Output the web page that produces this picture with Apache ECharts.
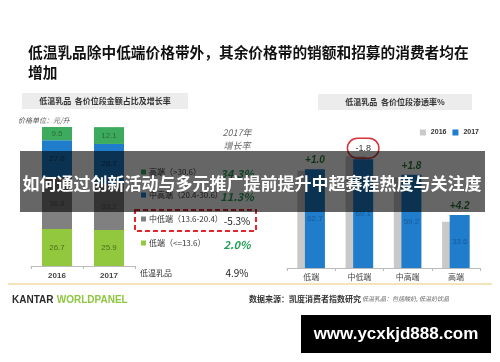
<!DOCTYPE html>
<html><head><meta charset="utf-8">
<script src="https://cdn.jsdelivr.net/npm/echarts@6/dist/echarts.min.js"></script>
<style>html,body{margin:0;padding:0;background:#fff}#c{width:500px;height:362px}</style>
</head><body><div id="c"></div>
<script>
// ---- data ----
const titleLines = ['低温乳品除中低端价格带外，其余价格带的销额和招募的消费者均在', '增加'];
const years = ['2016', '2017'];
const shareLow = [26.7, 25.9];
const shareMidLow = [36.8, 33.2];
const shareMidHigh = [27.0, 28.7];
const shareHigh = [9.5, 12.1];
const tierLegend = ['高端（>30.6）', '中高端（20.4-30.6）', '中低端（13.6-20.4）', '低端（<=13.6）'];
const tierGrowth = ['34.3%', '11.3%', '-5.3%', '2.0%'];
const totalLabel = '低温乳品';
const totalGrowth = '4.9%';
const tiers = ['低端', '中低端', '中高端', '高端'];
const pen2016 = [61.7, 70.9, 57.4, 29.4];
const pen2017 = [62.7, 69.1, 59.2, 33.6];
const penDiff = ['+1.0', '-1.8', '+1.8', '+4.2'];
const bannerText = '如何通过创新活动与多元推广提前提升中超赛程热度与关注度';
const watermark = 'www.ycxkjd888.com';

const F = '"Noto Sans CJK SC", "Noto Sans", sans-serif';
const cGreen = '#3dab5e', cBlue = '#1f7dcc', cGray = '#808080', cLime = '#92c83e', cLight = '#c9c9c9';

const chart = echarts.init(document.getElementById('c'), null, {renderer: 'canvas'});

function txt(text, x, y, o) {
  o = o || {};
  return {type: 'text', z: o.z || 5, style: Object.assign({
    text: text, x: x, y: y, fill: '#333', fontSize: 8, fontFamily: F,
    align: 'left', verticalAlign: 'middle'
  }, o.style || {})};
}
function segLabel(color) {
  return {show: true, position: 'inside', color: color, fontSize: 8, fontFamily: 'Liberation Sans, Arial, sans-serif',
          formatter: p => Number(p.value).toFixed(1)};
}

const legendColors = [cGreen, cBlue, cGray, cLime];
const rowY = [172, 195, 219, 243];
const graphics = [];
// title
graphics.push(txt(titleLines[0], 28, 52, {style: {fontSize: 14.7, fontWeight: 'bold', fill: '#111'}}));
graphics.push(txt(titleLines[1], 28, 72, {style: {fontSize: 14.7, fontWeight: 'bold', fill: '#111'}}));
// header boxes
graphics.push({type: 'rect', z: 1, shape: {x: 22, y: 93, width: 166, height: 16}, style: {fill: '#ececec'}});
graphics.push(txt('低温乳品  各价位段金额占比及增长率', 105, 101, {style: {align: 'center', fontWeight: 'bold', fill: '#333'}}));
graphics.push({type: 'rect', z: 1, shape: {x: 318, y: 94, width: 154, height: 16}, style: {fill: '#ececec'}});
graphics.push(txt('低温乳品  各价位段渗透率%', 395, 102, {style: {align: 'center', fontWeight: 'bold', fill: '#333'}}));
graphics.push(txt('价格单位：元/升', 18, 120, {style: {fontSize: 7, fontStyle: 'italic', fill: '#555'}}));
// growth header
graphics.push(txt('2017年', 237, 133, {style: {align: 'center', fontSize: 9, fontStyle: 'italic', fill: '#666'}}));
graphics.push(txt('增长率', 237, 146, {style: {align: 'center', fontSize: 9, fontStyle: 'italic', fill: '#666'}}));
// tier legend rows
tierLegend.forEach((t, i) => {
  graphics.push({type: 'rect', z: 5, shape: {x: 141, y: rowY[i] - 2.5, width: 5, height: 5}, style: {fill: legendColors[i]}});
  graphics.push(txt(t, 149, rowY[i], {style: {fontSize: 8, fill: '#333'}}));
  const neg = tierGrowth[i].charAt(0) === '-';
  graphics.push(txt(tierGrowth[i], 237, rowY[i] + 2, {style: {align: 'center',
    fontSize: neg ? 10 : 11, fontWeight: neg ? 'normal' : 'bold', fontStyle: neg ? 'normal' : 'italic',
    fill: neg ? '#222' : '#23a05a'}}));
});
graphics.push(txt(totalLabel, 140, 273, {style: {fontSize: 8, fill: '#333'}}));
graphics.push(txt(totalGrowth, 237, 273, {style: {align: 'center', fontSize: 10, fill: '#222'}}));
// red dashed box
graphics.push({type: 'rect', z: 6, shape: {x: 135, y: 210, width: 121, height: 21},
  style: {fill: 'none', stroke: '#e0282e', lineWidth: 2, lineDash: [5, 3]}});
// footer
graphics.push({type: 'line', z: 1, shape: {x1: 8, y1: 284, x2: 492, y2: 284}, style: {stroke: '#e6c878', lineWidth: 1}});
graphics.push({type: 'text', z: 5, style: {x: 12, y: 300, verticalAlign: 'middle', text: '{a|KANTAR} {b|WORLDPANEL}',
  rich: {a: {fontSize: 10, fontWeight: 'bold', fill: '#2b2b2b', fontFamily: 'Liberation Sans, Arial'},
         b: {fontSize: 10, fontWeight: 'bold', fill: '#8dc63f', fontFamily: 'Liberation Sans, Arial'}}}});
graphics.push(txt('数据来源：凯度消费者指数研究', 249, 299, {style: {fontSize: 8, fontWeight: 'bold', fill: '#333'}}));
graphics.push(txt('低温乳品：包括酸奶, 低温奶饮品', 362, 299, {style: {fontSize: 6, fontStyle: 'italic', fill: '#666'}}));
// banner overlay
graphics.push({type: 'rect', z: 100, shape: {x: 20, y: 151, width: 465, height: 61}, style: {fill: 'rgba(0,0,0,0.6)'}});
graphics.push(txt(bannerText, 252, 184, {z: 101, style: {align: 'center', fontSize: 17, fontWeight: 'bold', fill: '#fff'}}));
// watermark
graphics.push({type: 'rect', z: 100, shape: {x: 301, y: 315, width: 190, height: 38}, style: {fill: '#000'}});
graphics.push(txt(watermark, 396, 334, {z: 101, style: {align: 'center', fontSize: 17, fontWeight: 'bold', fill: '#fff', fontFamily: 'Liberation Sans, Arial, sans-serif'}}));

const diffData = penDiff.map(d => {
  const neg = d.charAt(0) === '-';
  return {value: 0, label: neg ? {
    color: '#333', fontStyle: 'normal', fontWeight: 'normal', fontSize: 9,
    borderColor: '#d8333b', borderWidth: 1.5, borderRadius: 12, padding: [6, 8, 5, 8], distance: 1
  } : {}};
});

const option = {
  animation: false,
  backgroundColor: '#fff',
  graphic: graphics,
  legend: {
    data: ['2016', '2017'], right: 16, top: 124, itemWidth: 6, itemHeight: 6, itemGap: 6, icon: 'rect',
    textStyle: {fontSize: 7, fontWeight: 'bold', color: '#333', fontFamily: 'Liberation Sans, Arial'}
  },
  grid: [
    {left: 31, width: 104, top: 127, height: 139},
    {left: 287, width: 193, top: 142, height: 126}
  ],
  xAxis: [
    {type: 'category', gridIndex: 0, data: years,
     axisLine: {lineStyle: {color: '#bbb'}}, axisTick: {show: true, length: 3, lineStyle: {color: '#bbb'}},
     axisLabel: {fontSize: 8, fontWeight: 'bold', color: '#444', margin: 6, fontFamily: 'Liberation Sans, Arial'}},
    {type: 'category', gridIndex: 1, data: tiers,
     axisLine: {lineStyle: {color: '#bbb'}}, axisTick: {show: true, length: 3, lineStyle: {color: '#bbb'}},
     axisLabel: {fontSize: 8, color: '#444', margin: 5, fontFamily: F}}
  ],
  yAxis: [
    {type: 'value', gridIndex: 0, min: 0, max: 100, show: false, splitLine: {show: false}},
    {type: 'value', gridIndex: 1, min: 0, max: 80, show: false, splitLine: {show: false}}
  ],
  series: [
    {type: 'bar', xAxisIndex: 0, yAxisIndex: 0, stack: 's', barWidth: 30, data: shareLow,
     itemStyle: {color: cLime}, label: segLabel('#4f6b1f')},
    {type: 'bar', xAxisIndex: 0, yAxisIndex: 0, stack: 's', data: shareMidLow,
     itemStyle: {color: cGray}, label: segLabel('#555')},
    {type: 'bar', xAxisIndex: 0, yAxisIndex: 0, stack: 's', data: shareMidHigh,
     itemStyle: {color: cBlue}, label: segLabel('#0f4577')},
    {type: 'bar', xAxisIndex: 0, yAxisIndex: 0, stack: 's', data: shareHigh,
     itemStyle: {color: cGreen}, label: segLabel('#2a6b3c')},
    {name: '2016', type: 'bar', xAxisIndex: 1, yAxisIndex: 1, barWidth: 20, barGap: '-62%', data: pen2016,
     itemStyle: {color: cLight}},
    {name: '2017', type: 'bar', xAxisIndex: 1, yAxisIndex: 1, stack: 'p', barWidth: 20, data: pen2017,
     itemStyle: {color: cBlue}, label: segLabel('#1a5a9a')},
    {name: 'diff', type: 'bar', xAxisIndex: 1, yAxisIndex: 1, stack: 'p', barWidth: 20, data: diffData,
     itemStyle: {color: 'transparent'},
     label: {show: true, position: 'top', distance: 4, fontSize: 10, fontWeight: 'bold', fontStyle: 'italic',
             color: '#2e7d3e', fontFamily: 'Liberation Sans, Arial',
             formatter: p => penDiff[p.dataIndex]}}
  ]
};
chart.setOption(option);
</script></body></html>
